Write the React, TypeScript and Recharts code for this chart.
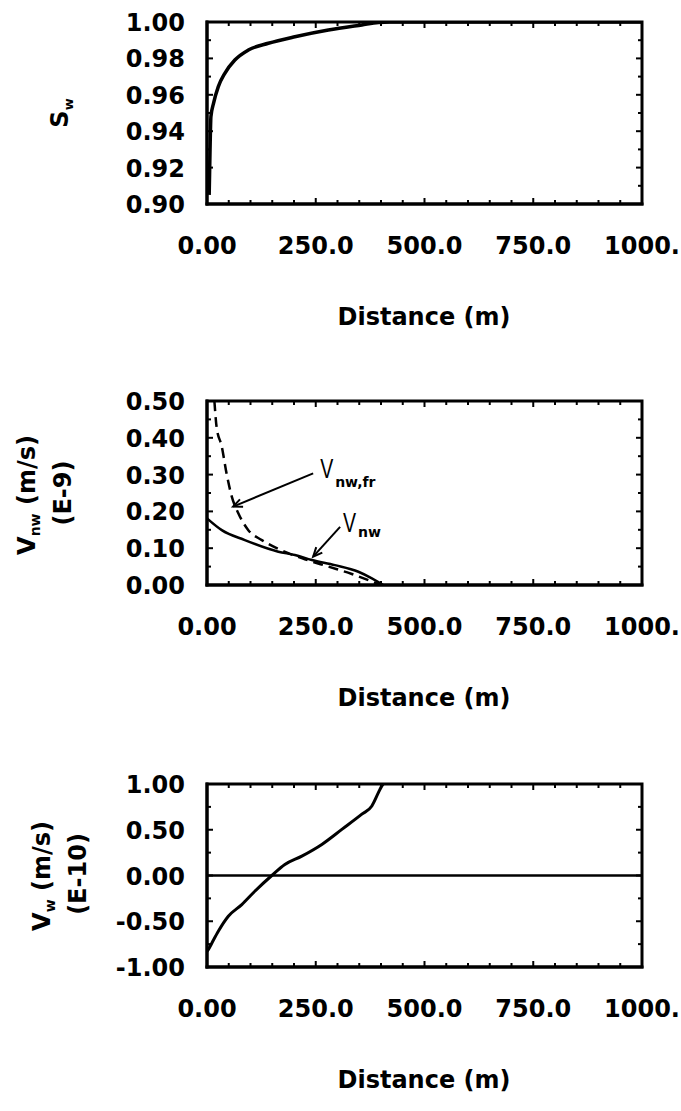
import React from 'react';
import { LineChart, Line, XAxis, YAxis, ReferenceLine, ReferenceArea } from 'recharts';

// ---------- data ----------
const X_TICKS = [0, 50, 100, 150, 200, 250, 300, 350, 400, 450, 500, 550, 600, 650, 700, 750, 800, 850, 900, 950, 1000];
const X_LABELS: Record<number, string> = { 0: '0.00', 250: '250.0', 500: '500.0', 750: '750.0', 1000: '1000.' };

const Y1_TICKS = [0.9, 0.91, 0.92, 0.93, 0.94, 0.95, 0.96, 0.97, 0.98, 0.99, 1.0];
const Y1_LABELS = [0.9, 0.92, 0.94, 0.96, 0.98, 1.0];
const Y2_TICKS = [0, 0.05, 0.1, 0.15, 0.2, 0.25, 0.3, 0.35, 0.4, 0.45, 0.5];
const Y2_LABELS = [0, 0.1, 0.2, 0.3, 0.4, 0.5];
const Y3_TICKS = [-1, -0.75, -0.5, -0.25, 0, 0.25, 0.5, 0.75, 1];
const Y3_LABELS = [-1, -0.5, 0, 0.5, 1];

// S_w vs distance
const SW_X = [5, 7, 9, 15, 26, 41, 64, 95, 141, 202, 279, 356, 394, 420, 1000];
const SW_Y = [0.905, 0.93, 0.948, 0.9553, 0.9645, 0.9718, 0.9791, 0.9846, 0.9883, 0.9919, 0.9956, 0.9984, 0.9997, 1.0, 1.0];

// V_nw (solid)
const VNW_X = [0, 34, 87, 164, 202, 241, 294, 348, 379, 405];
const VNW_Y = [0.181, 0.149, 0.122, 0.0905, 0.0815, 0.068, 0.054, 0.036, 0.018, 0.0];

// V_nw,fr (dashed)
const VNWFR_X = [17, 22, 34, 45, 57, 72, 95, 126, 164, 225, 279, 333, 371, 395];
const VNWFR_Y = [0.5, 0.43, 0.376, 0.303, 0.24, 0.195, 0.149, 0.122, 0.098, 0.07, 0.05, 0.03, 0.013, 0.002];

// V_w
const VW_X = [0, 3, 11, 26, 49, 80, 110, 149, 179, 218, 264, 310, 356, 379, 394, 402, 405];
const VW_Y = [-0.83, -0.81, -0.74, -0.61, -0.446, -0.318, -0.172, 0, 0.12, 0.212, 0.34, 0.504, 0.67, 0.76, 0.905, 0.98, 1.0];

const zip = (xs: number[], ys: number[]) => xs.map((x, i) => ({ x, y: ys[i] }));
const swData = zip(SW_X, SW_Y);
const vnwData = zip(VNW_X, VNW_Y);
const vnwfrData = zip(VNWFR_X, VNWFR_Y);
const vwData = zip(VW_X, VW_Y);

// ---------- styles ----------
const FONT = "'DejaVu Sans', sans-serif";
const LBL = 24;
const AXIS = { stroke: '#000', strokeWidth: 3, strokeLinecap: 'square' as const };
const has = (arr: number[], v: number) => arr.some((a) => Math.abs(a - v) < 1e-9);
const W = 681;
const H = 300;
const PLOT_W = 435;

const makeBottomTick = (plotH: number) => (p: any) => {
  const { x, y, payload } = p;
  const v = payload.value;
  const lab = X_LABELS[v];
  const len = lab ? 6 : 4;
  return (
    <g>
      <line x1={x} y1={y} x2={x} y2={y - len} stroke="#000" strokeWidth={2} />
      <line x1={x} y1={y - plotH} x2={x} y2={y - plotH + len} stroke="#000" strokeWidth={2} />
      {lab && (
        <text x={x} y={y + 50} textAnchor="middle" fontFamily={FONT} fontWeight="bold" fontSize={LBL} fill="#000">
          {lab}
        </text>
      )}
    </g>
  );
};

const makeLeftTick = (labels: number[]) => (p: any) => {
  const { x, y, payload } = p;
  const v = payload.value;
  const major = has(labels, v);
  const len = major ? 6 : 4;
  return (
    <g>
      <line x1={x} y1={y} x2={x + len} y2={y} stroke="#000" strokeWidth={2} />
      <line x1={x + PLOT_W} y1={y} x2={x + PLOT_W - len} y2={y} stroke="#000" strokeWidth={2} />
      {major && (
        <text x={x - 22} y={y + 9} textAnchor="end" fontFamily={FONT} fontWeight="bold" fontSize={LBL} fill="#000">
          {v.toFixed(2)}
        </text>
      )}
    </g>
  );
};

const makeArrow = (main: string, sub: string, dx: number, dy: number, subDy: number) => (p: any) => {
  const { x1, y1, x2, y2 } = p;
  const ang = Math.atan2(y2 - y1, x2 - x1);
  const L = 10;
  const a = 0.42;
  const h1x = x2 - L * Math.cos(ang - a);
  const h1y = y2 - L * Math.sin(ang - a);
  const h2x = x2 - L * Math.cos(ang + a);
  const h2y = y2 - L * Math.sin(ang + a);
  return (
    <g>
      <line x1={x1} y1={y1} x2={x2} y2={y2} stroke="#000" strokeWidth={2} />
      <polyline points={`${h1x},${h1y} ${x2},${y2} ${h2x},${h2y}`} fill="none" stroke="#000" strokeWidth={2} />
      <text
        transform={`translate(${x1 + dx},${y1 + dy}) scale(0.7,1)`}
        fontFamily="'Liberation Sans', Arial, sans-serif"
        fontSize={28}
        fill="#000"
      >
        {main}
      </text>
      <text x={x1 + dx + 15} y={y1 + dy + subDy} fontFamily={FONT} fontWeight="bold" fontSize={14} fill="#000">
        {sub}
      </text>
    </g>
  );
};

type PanelProps = {
  top: number;
  marginTop: number;
  plotBottom: number;
  yDomain: [number, number];
  yTicks: number[];
  yLabels: number[];
  children: React.ReactNode;
};

const Panel = ({ top, marginTop, plotBottom, yDomain, yTicks, yLabels, children }: PanelProps) => (
  <div style={{ position: 'absolute', left: 0, top, width: W, height: H }}>
    <LineChart width={W} height={H} margin={{ top: marginTop, right: 39, left: 0, bottom: 0 }}>
      <XAxis
        dataKey="x"
        type="number"
        domain={[0, 1000]}
        ticks={X_TICKS}
        interval={0}
        allowDataOverflow
        height={H - plotBottom}
        tickSize={0}
        tickMargin={0}
        tickLine={false}
        axisLine={AXIS}
        tick={makeBottomTick(plotBottom - marginTop)}
      />
      <YAxis
        type="number"
        domain={yDomain}
        ticks={yTicks}
        interval={0}
        allowDataOverflow
        width={207}
        tickSize={0}
        tickMargin={0}
        tickLine={false}
        axisLine={AXIS}
        tick={makeLeftTick(yLabels)}
      />
      {children}
      <ReferenceArea
        x1={0}
        x2={1000}
        y1={yDomain[0]}
        y2={yDomain[1]}
        fill="none"
        fillOpacity={0}
        stroke="#000"
        strokeWidth={3}
        ifOverflow="visible"
      />
    </LineChart>
  </div>
);

const txt = { fontFamily: FONT, fontWeight: 'bold' as const, fontSize: LBL, fill: '#000' };

export default function App() {
  return (
    <div style={{ position: 'absolute', left: 0, top: 0, width: W, height: 1111, background: '#fff' }}>
      <Panel top={0} marginTop={22} plotBottom={204} yDomain={[0.9, 1.0]} yTicks={Y1_TICKS} yLabels={Y1_LABELS}>
        <Line data={swData} dataKey="y" type="monotone" stroke="#000" strokeWidth={3.5} dot={false} isAnimationActive={false} />
      </Panel>
      <Panel top={380} marginTop={21} plotBottom={205} yDomain={[0, 0.5]} yTicks={Y2_TICKS} yLabels={Y2_LABELS}>
        <Line data={vnwData} dataKey="y" type="monotone" stroke="#000" strokeWidth={2.5} dot={false} isAnimationActive={false} />
        <Line
          data={vnwfrData}
          dataKey="y"
          type="monotone"
          stroke="#000"
          strokeWidth={2.5}
          strokeDasharray="10 6"
          dot={false}
          isAnimationActive={false}
        />
        <ReferenceLine
          segment={[{ x: 244, y: 0.3035 }, { x: 60, y: 0.213 }]}
          ifOverflow="visible"
          shape={makeArrow('V', 'nw,fr', 7, 5, 9)}
        />
        <ReferenceLine
          segment={[{ x: 306, y: 0.158 }, { x: 244, y: 0.077 }]}
          ifOverflow="visible"
          shape={makeArrow('V', 'nw', 3, 5, 5)}
        />
      </Panel>
      <Panel top={760} marginTop={24} plotBottom={207} yDomain={[-1, 1]} yTicks={Y3_TICKS} yLabels={Y3_LABELS}>
        <ReferenceLine y={0} stroke="#000" strokeWidth={2.5} />
        <Line data={vwData} dataKey="y" type="monotone" stroke="#000" strokeWidth={3} dot={false} isAnimationActive={false} />
      </Panel>

      <svg width={W} height={1111} style={{ position: 'absolute', left: 0, top: 0, pointerEvents: 'none' }}>
        <text transform="translate(68,113) rotate(-90)" textAnchor="middle" {...txt}>
          S<tspan fontSize={13} dy={5}>w</tspan>
        </text>
        <text transform="translate(35,495) rotate(-90)" textAnchor="middle" {...txt}>
          V<tspan fontSize={14} dy={5}>nw</tspan>
          <tspan dy={-5}>{' (m/s)'}</tspan>
        </text>
        <text transform="translate(71,493) rotate(-90)" textAnchor="middle" {...txt}>
          (E-9)
        </text>
        <text transform="translate(50,876) rotate(-90)" textAnchor="middle" {...txt}>
          V<tspan fontSize={14} dy={5}>w</tspan>
          <tspan dy={-5}>{' (m/s)'}</tspan>
        </text>
        <text transform="translate(86,874) rotate(-90)" textAnchor="middle" {...txt}>
          (E-10)
        </text>
        <text x={424} y={325} textAnchor="middle" {...txt}>
          Distance (m)
        </text>
        <text x={424} y={706} textAnchor="middle" {...txt}>
          Distance (m)
        </text>
        <text x={424} y={1088} textAnchor="middle" {...txt}>
          Distance (m)
        </text>
      </svg>
    </div>
  );
}
